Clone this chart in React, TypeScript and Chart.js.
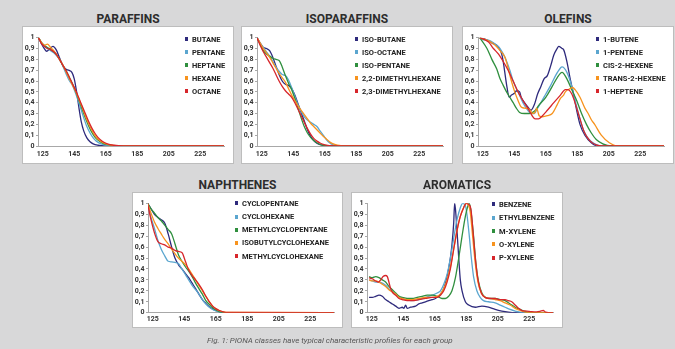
import React, { useEffect, useRef } from 'react';
import { Chart, registerables } from 'chart.js';

Chart.register(...registerables);

// ---------- shared axis / style data ----------
const X_MIN = 122;
const X_MAX = 240;
const X_TICKS = [125, 145, 165, 185, 205, 225];
const Y_TICKS = [0, 0.1, 0.2, 0.3, 0.4, 0.5, 0.6, 0.7, 0.8, 0.9, 1];
const COLORS = ['#2e2a7c', '#5ba6cf', '#2f8f3e', '#f7931e', '#d7262b'];
const CAPTION = 'Fig. 1: PIONA classes have typical characteristic profiles for each group';

// ---------- PARAFFINS ----------
const PARAFFIN_NAMES = ['BUTANE', 'PENTANE', 'HEPTANE', 'HEXANE', 'OCTANE'];
const butaneX = [122.3, 124, 126, 127.5, 129.5, 131.5, 133.5, 135.5, 137.5, 139.5, 141.5, 143.5, 145, 146.5, 148, 149.5, 151, 153, 155, 157, 160, 164, 240];
const butaneY = [1, 0.95, 0.9, 0.875, 0.9, 0.92, 0.89, 0.82, 0.75, 0.71, 0.7, 0.68, 0.62, 0.5, 0.35, 0.22, 0.14, 0.075, 0.04, 0.02, 0.007, 0, 0];
const pentaneX = [122.3, 124, 126, 128, 130, 132, 134, 136, 138, 140, 142, 143.5, 145, 147, 149, 151, 153, 155, 157, 159, 162, 166, 172, 240];
const pentaneY = [1, 0.96, 0.92, 0.9, 0.88, 0.86, 0.83, 0.79, 0.73, 0.66, 0.6, 0.57, 0.52, 0.44, 0.35, 0.26, 0.18, 0.12, 0.075, 0.045, 0.02, 0.006, 0, 0];
const paraffinGridX = [122.3, 124, 126, 128, 130, 132, 134, 136, 138, 140, 142, 144, 146, 148, 150, 152, 154, 156, 158, 160, 163, 166, 170, 176, 240];
const heptaneY = [1, 0.96, 0.93, 0.91, 0.89, 0.87, 0.84, 0.79, 0.74, 0.69, 0.63, 0.57, 0.5, 0.42, 0.34, 0.26, 0.19, 0.13, 0.085, 0.055, 0.027, 0.012, 0.004, 0, 0];
const hexaneY = [1, 0.96, 0.93, 0.94, 0.91, 0.88, 0.84, 0.79, 0.74, 0.68, 0.62, 0.56, 0.5, 0.43, 0.36, 0.28, 0.21, 0.15, 0.1, 0.065, 0.033, 0.015, 0.005, 0, 0];
const octaneY = [1, 0.95, 0.92, 0.9, 0.89, 0.87, 0.84, 0.79, 0.74, 0.69, 0.63, 0.57, 0.51, 0.44, 0.37, 0.3, 0.23, 0.17, 0.12, 0.08, 0.042, 0.02, 0.007, 0, 0];

// ---------- ISOPARAFFINS ----------
const ISO_NAMES = ['ISO-BUTANE', 'ISO-OCTANE', 'ISO-PENTANE', '2,2-DIMETHYLHEXANE', '2,3-DIMETHYLHEXANE'];
const isoButaneX = [122, 124, 126, 128, 130, 132, 134, 136, 138, 140, 142, 144, 146, 148, 150, 152, 154, 156, 158, 160, 162, 164, 167, 240];
const isoButaneY = [1, 0.95, 0.91, 0.9, 0.88, 0.82, 0.74, 0.66, 0.6, 0.57, 0.56, 0.53, 0.47, 0.39, 0.31, 0.23, 0.15, 0.09, 0.05, 0.025, 0.012, 0.005, 0, 0];
const isoOctaneX = [122, 124, 126, 128, 130, 132, 134, 136, 138, 140, 142, 144, 146, 148, 150, 152, 154, 156, 158, 160, 162, 164, 166, 168, 170, 173, 176, 240];
const isoOctaneY = [1, 0.95, 0.91, 0.87, 0.83, 0.78, 0.73, 0.69, 0.66, 0.65, 0.61, 0.54, 0.46, 0.38, 0.32, 0.27, 0.24, 0.22, 0.2, 0.18, 0.14, 0.1, 0.06, 0.03, 0.012, 0.003, 0, 0];
const isoPentaneX = [122, 124, 126, 128, 130, 132, 134, 136, 138, 140, 142, 144, 146, 148, 150, 152, 154, 156, 158, 160, 162, 164, 168, 240];
const isoPentaneY = [1, 0.94, 0.88, 0.85, 0.83, 0.81, 0.8, 0.79, 0.73, 0.65, 0.58, 0.52, 0.44, 0.35, 0.26, 0.18, 0.12, 0.08, 0.05, 0.03, 0.015, 0.007, 0, 0];
const dmh22X = [122, 124, 126, 128, 130, 132, 134, 136, 138, 140, 142, 144, 146, 148, 150, 152, 154, 156, 158, 160, 162, 164, 166, 168, 170, 173, 176, 180, 240];
const dmh22Y = [1, 0.95, 0.9, 0.86, 0.82, 0.77, 0.72, 0.67, 0.63, 0.59, 0.53, 0.47, 0.42, 0.37, 0.33, 0.29, 0.25, 0.21, 0.18, 0.15, 0.12, 0.09, 0.065, 0.04, 0.022, 0.008, 0.002, 0, 0];
const dmh23X = [122, 124, 126, 128, 130, 132, 134, 136, 138, 140, 142, 144, 146, 148, 150, 152, 154, 156, 158, 160, 162, 164, 166, 168, 170, 173, 240];
const dmh23Y = [1, 0.93, 0.87, 0.82, 0.77, 0.72, 0.66, 0.6, 0.55, 0.51, 0.48, 0.45, 0.4, 0.34, 0.28, 0.22, 0.16, 0.11, 0.07, 0.045, 0.028, 0.016, 0.008, 0.004, 0.002, 0, 0];

// ---------- OLEFINS ----------
const OLEFIN_NAMES = ['1-BUTENE', '1-PENTENE', 'CIS-2-HEXENE', 'TRANS-2-HEXENE', '1-HEPTENE'];
const buteneX = [123, 126, 129, 131, 133.9, 135.5, 137, 138, 140.1, 141.8, 143.2, 145.3, 146.3, 148.4, 149.4, 151.5, 153.6, 155.6, 157.7, 159.8, 161.9, 163.9, 166, 168.1, 170.1, 172.2, 173.2, 175.3, 176.3, 178.4, 180.5, 182.6, 184.6, 186.7, 189.8, 193.9, 198.1, 240];
const buteneY = [1, 0.99, 0.97, 0.95, 0.93, 0.9, 0.85, 0.78, 0.57, 0.45, 0.47, 0.49, 0.51, 0.5, 0.45, 0.4, 0.36, 0.33, 0.38, 0.48, 0.55, 0.62, 0.65, 0.74, 0.84, 0.9, 0.92, 0.9, 0.89, 0.78, 0.62, 0.48, 0.33, 0.2, 0.1, 0.03, 0, 0];
const penteneX = [123.1, 125.5, 127.7, 129.8, 133.9, 136, 139.1, 142.2, 144.3, 147.4, 150.5, 153.6, 155.6, 157.7, 159.8, 161.9, 165, 168.1, 171.2, 174.3, 175.3, 178.4, 181.5, 183.6, 186.1, 188.8, 191.9, 196, 200.2, 240];
const penteneY = [1, 0.98, 0.98, 0.97, 0.93, 0.9, 0.82, 0.7, 0.6, 0.5, 0.4, 0.33, 0.3, 0.3, 0.35, 0.4, 0.48, 0.56, 0.65, 0.72, 0.73, 0.68, 0.55, 0.42, 0.28, 0.15, 0.07, 0.02, 0, 0];
const cisHexeneX = [123.1, 127.7, 130.8, 133.9, 136, 138, 140.1, 142.2, 144.3, 146.3, 148.4, 151.5, 154.6, 157.7, 160.8, 165, 169.1, 172.2, 175.3, 178.4, 181.5, 184.6, 187.7, 190.8, 193.9, 197, 201.2, 206.4, 240];
const cisHexeneY = [1, 0.9, 0.8, 0.71, 0.62, 0.56, 0.5, 0.45, 0.4, 0.35, 0.31, 0.3, 0.3, 0.32, 0.38, 0.45, 0.55, 0.63, 0.68, 0.62, 0.52, 0.42, 0.3, 0.2, 0.12, 0.06, 0.02, 0, 0];
const transHexeneX = [123.1, 128.7, 132.9, 136, 139.1, 141.1, 143.2, 145.3, 147.4, 149.4, 151.5, 154.6, 156.7, 158.2, 159.2, 160.3, 160.8, 162.9, 166, 169.1, 172.2, 174.3, 176.3, 177.4, 180.5, 181.9, 183.6, 186.7, 189.8, 191.9, 194, 196, 200.2, 205.3, 210.5, 240];
const transHexeneY = [1, 0.97, 0.93, 0.88, 0.82, 0.72, 0.6, 0.5, 0.42, 0.36, 0.35, 0.34, 0.3, 0.31, 0.35, 0.3, 0.28, 0.27, 0.28, 0.3, 0.38, 0.44, 0.47, 0.5, 0.53, 0.54, 0.52, 0.45, 0.35, 0.3, 0.24, 0.2, 0.1, 0.03, 0, 0];
const hepteneX = [123.1, 128.7, 131.8, 134.9, 138, 141.1, 144.3, 147.4, 150.5, 153.6, 156.3, 158.3, 160.4, 162.9, 166, 170.1, 174.3, 177.4, 179, 181.5, 184, 186.7, 189.4, 192.9, 197, 201.2, 240];
const hepteneY = [1, 0.96, 0.9, 0.85, 0.78, 0.7, 0.6, 0.5, 0.42, 0.35, 0.28, 0.25, 0.25, 0.28, 0.33, 0.4, 0.47, 0.52, 0.52, 0.48, 0.38, 0.25, 0.13, 0.05, 0.01, 0, 0];

// ---------- NAPHTHENES ----------
const NAPHTHENE_NAMES = ['CYCLOPENTANE', 'CYCLOHEXANE', 'METHYLCYCLOPENTANE', 'ISOBUTYLCYCLOHEXANE', 'METHYLCYCLOHEXANE'];
const naphGridX = [121.7, 123.9, 126.1, 128.3, 130.4, 132.6, 134.8, 137, 139.1, 141.3, 143.5, 145.7, 147.8, 150, 152.2, 154.3, 156.5, 158.7, 160.9, 163, 165.2, 167.4, 169.6, 171.7, 240];
const cyclopentaneY = [1, 0.95, 0.9, 0.87, 0.85, 0.82, 0.72, 0.6, 0.5, 0.44, 0.4, 0.36, 0.32, 0.27, 0.22, 0.17, 0.12, 0.085, 0.055, 0.035, 0.018, 0.008, 0.002, 0, 0];
const cyclohexaneY = [1, 0.87, 0.77, 0.66, 0.58, 0.52, 0.47, 0.465, 0.46, 0.45, 0.4, 0.35, 0.3, 0.25, 0.21, 0.17, 0.12, 0.08, 0.05, 0.03, 0.017, 0.008, 0.002, 0, 0];
const methylcyclopentaneY = [1, 0.95, 0.91, 0.87, 0.84, 0.8, 0.76, 0.72, 0.63, 0.53, 0.47, 0.42, 0.38, 0.33, 0.27, 0.22, 0.17, 0.11, 0.075, 0.045, 0.025, 0.01, 0.003, 0, 0];
const isobutylcyclohexaneY = [1, 0.91, 0.83, 0.77, 0.72, 0.67, 0.63, 0.58, 0.54, 0.5, 0.47, 0.44, 0.4, 0.35, 0.3, 0.25, 0.2, 0.15, 0.1, 0.06, 0.035, 0.018, 0.008, 0.002, 0];
const methylcyclohexaneY = [1, 0.85, 0.73, 0.65, 0.63, 0.62, 0.6, 0.59, 0.57, 0.56, 0.55, 0.47, 0.39, 0.34, 0.3, 0.26, 0.21, 0.15, 0.1, 0.06, 0.035, 0.02, 0.008, 0.002, 0];

// ---------- AROMATICS ----------
const AROMATIC_NAMES = ['BENZENE', 'ETHYLBENZENE', 'M-XYLENE', 'O-XYLENE', 'P-XYLENE'];
const benzeneX = [123.3, 125.4, 127.5, 129.6, 131.7, 133.8, 135.9, 138.1, 140.2, 142.3, 144.4, 145.4, 146.5, 147.5, 149.6, 152.8, 154.9, 157, 159.1, 161.2, 163.3, 165.4, 168.6, 170.7, 172.8, 174.9, 175.9, 177, 177.6, 178.1, 179.1, 180.2, 181.2, 182.3, 184.4, 186.5, 190.7, 194.9, 199.1, 203.3, 207.5, 211.7, 216, 240];
const benzeneY = [0.14, 0.14, 0.15, 0.16, 0.15, 0.12, 0.1, 0.08, 0.06, 0.04, 0.05, 0.04, 0.07, 0.04, 0.05, 0.06, 0.08, 0.09, 0.1, 0.11, 0.12, 0.13, 0.17, 0.22, 0.33, 0.5, 0.62, 0.82, 1, 0.95, 0.75, 0.5, 0.3, 0.2, 0.1, 0.07, 0.05, 0.06, 0.05, 0.03, 0.015, 0.005, 0, 0];
const ethylbenzeneX = [123.3, 125.4, 127.5, 129.6, 131.7, 133.8, 135.9, 138.1, 140.2, 142.3, 144.4, 147.5, 150.7, 154.9, 159.1, 163.3, 166.5, 168.6, 170.7, 172.8, 174.9, 177, 179.1, 181.2, 182.7, 184.4, 185.4, 186.9, 188.2, 189.6, 191.7, 193.8, 195.9, 199.1, 203.3, 206.5, 209.6, 212.8, 216, 219.1, 222.3, 240];
const ethylbenzeneY = [0.3, 0.29, 0.28, 0.28, 0.27, 0.25, 0.22, 0.19, 0.17, 0.15, 0.13, 0.12, 0.11, 0.12, 0.14, 0.16, 0.18, 0.2, 0.26, 0.35, 0.5, 0.68, 0.85, 0.96, 1, 0.98, 0.9, 0.7, 0.5, 0.33, 0.2, 0.14, 0.11, 0.1, 0.09, 0.07, 0.05, 0.03, 0.015, 0.005, 0, 0];
const mXyleneX = [123.3, 125.4, 127.5, 129.6, 131.7, 133.8, 135.9, 138.1, 140.2, 142.3, 144.4, 147.5, 150.7, 153.8, 157, 160.2, 163.3, 166.5, 169.6, 171.7, 173.8, 175.9, 178.1, 180.2, 182.3, 184.4, 186.1, 186.9, 188.2, 189.6, 191.1, 192.8, 194.9, 197, 200.2, 203.3, 206.5, 209.6, 212.8, 216, 219.1, 222.3, 225.4, 240];
const mXyleneY = [0.33, 0.32, 0.33, 0.32, 0.3, 0.28, 0.24, 0.21, 0.18, 0.15, 0.14, 0.13, 0.13, 0.14, 0.15, 0.16, 0.16, 0.15, 0.13, 0.13, 0.15, 0.2, 0.32, 0.5, 0.7, 0.88, 0.98, 1, 0.9, 0.7, 0.45, 0.28, 0.18, 0.14, 0.13, 0.13, 0.12, 0.11, 0.08, 0.05, 0.03, 0.01, 0, 0];
const oXyleneX = [123.3, 125.4, 127.5, 129.6, 131.7, 133.8, 135.9, 138.1, 140.2, 142.3, 144.4, 147.5, 150.7, 154.9, 159.1, 163.3, 166.5, 168.6, 170.7, 172.8, 174.9, 177, 179.1, 181.2, 183.3, 184.8, 186.1, 187.5, 189, 190.7, 192.4, 194.5, 197, 200.2, 203.3, 206.5, 209.6, 212.8, 216, 219.1, 222.3, 225.4, 240];
const oXyleneY = [0.3, 0.29, 0.29, 0.28, 0.26, 0.24, 0.21, 0.19, 0.17, 0.14, 0.13, 0.12, 0.12, 0.13, 0.14, 0.14, 0.15, 0.17, 0.22, 0.3, 0.42, 0.58, 0.75, 0.88, 0.96, 1, 0.99, 0.92, 0.7, 0.45, 0.28, 0.18, 0.14, 0.13, 0.12, 0.11, 0.09, 0.07, 0.04, 0.02, 0.005, 0, 0];
const pXyleneX = [123.3, 125.4, 127.5, 129.2, 130.7, 132.2, 133.8, 134.9, 135.9, 137, 138.5, 140.2, 142.3, 144.4, 147.5, 150.7, 154.9, 159.1, 163.3, 166.5, 168.6, 170.7, 172.8, 174.9, 177, 179.1, 181.2, 183.3, 185, 186.5, 187.9, 189.2, 190.7, 192.4, 194.5, 197, 200.2, 203.3, 206.5, 209.6, 211.7, 213.8, 216, 218.1, 220.2, 223.3, 226.5, 229.6, 231.7, 233.8, 235.3, 237, 240];
const pXyleneY = [0.32, 0.31, 0.29, 0.28, 0.3, 0.33, 0.34, 0.33, 0.28, 0.22, 0.18, 0.16, 0.13, 0.12, 0.11, 0.11, 0.12, 0.13, 0.14, 0.14, 0.16, 0.2, 0.28, 0.4, 0.58, 0.75, 0.88, 0.96, 1, 0.99, 0.95, 0.75, 0.5, 0.3, 0.18, 0.14, 0.13, 0.13, 0.12, 0.12, 0.11, 0.1, 0.07, 0.04, 0.02, 0.015, 0.01, 0.008, 0.012, 0.02, 0.005, 0, 0];

type Series = { name: string; x: number[]; y: number[] };
type PanelDef = {
  title: string;
  left: number;
  top: number;
  w: number;
  h: number;
  legendLeft: number;
  legendTop: number;
  legendGap: number;
  xAxisH: number;
  labelPad: number;
  padTop: number;
  series: Series[];
};

const PANELS: PanelDef[] = [
  {
    title: 'PARAFFINS', left: 23, top: 27, w: 210, h: 136, legendLeft: 162, legendTop: 5.5, legendGap: 13, xAxisH: 17, labelPad: 4, padTop: 10.7,
    series: [
      { name: PARAFFIN_NAMES[0], x: butaneX, y: butaneY },
      { name: PARAFFIN_NAMES[1], x: pentaneX, y: pentaneY },
      { name: PARAFFIN_NAMES[2], x: paraffinGridX, y: heptaneY },
      { name: PARAFFIN_NAMES[3], x: paraffinGridX, y: hexaneY },
      { name: PARAFFIN_NAMES[4], x: paraffinGridX, y: octaneY },
    ],
  },
  {
    title: 'ISOPARAFFINS', left: 242, top: 27, w: 210, h: 136, legendLeft: 113, legendTop: 5.5, legendGap: 13, xAxisH: 17, labelPad: 4, padTop: 10.7,
    series: [
      { name: ISO_NAMES[0], x: isoButaneX, y: isoButaneY },
      { name: ISO_NAMES[1], x: isoOctaneX, y: isoOctaneY },
      { name: ISO_NAMES[2], x: isoPentaneX, y: isoPentaneY },
      { name: ISO_NAMES[3], x: dmh22X, y: dmh22Y },
      { name: ISO_NAMES[4], x: dmh23X, y: dmh23Y },
    ],
  },
  {
    title: 'OLEFINS', left: 463, top: 27, w: 210, h: 136, legendLeft: 133, legendTop: 5.5, legendGap: 13, xAxisH: 17, labelPad: 4, padTop: 10.7,
    series: [
      { name: OLEFIN_NAMES[0], x: buteneX, y: buteneY },
      { name: OLEFIN_NAMES[1], x: penteneX, y: penteneY },
      { name: OLEFIN_NAMES[2], x: cisHexeneX, y: cisHexeneY },
      { name: OLEFIN_NAMES[3], x: transHexeneX, y: transHexeneY },
      { name: OLEFIN_NAMES[4], x: hepteneX, y: hepteneY },
    ],
  },
  {
    title: 'NAPHTHENES', left: 133, top: 193, w: 209, h: 134, legendLeft: 102, legendTop: 3.8, legendGap: 13.2, xAxisH: 14.3, labelPad: 2, padTop: 10.3,
    series: [
      { name: NAPHTHENE_NAMES[0], x: naphGridX, y: cyclopentaneY },
      { name: NAPHTHENE_NAMES[1], x: naphGridX, y: cyclohexaneY },
      { name: NAPHTHENE_NAMES[2], x: naphGridX, y: methylcyclopentaneY },
      { name: NAPHTHENE_NAMES[3], x: naphGridX, y: isobutylcyclohexaneY },
      { name: NAPHTHENE_NAMES[4], x: naphGridX, y: methylcyclohexaneY },
    ],
  },
  {
    title: 'AROMATICS', left: 352, top: 193, w: 210, h: 134, legendLeft: 140, legendTop: 4.8, legendGap: 13.3, xAxisH: 14.3, labelPad: 2, padTop: 10.3,
    series: [
      { name: AROMATIC_NAMES[0], x: benzeneX, y: benzeneY },
      { name: AROMATIC_NAMES[1], x: ethylbenzeneX, y: ethylbenzeneY },
      { name: AROMATIC_NAMES[2], x: mXyleneX, y: mXyleneY },
      { name: AROMATIC_NAMES[3], x: oXyleneX, y: oXyleneY },
      { name: AROMATIC_NAMES[4], x: pXyleneX, y: pXyleneY },
    ],
  },
];

const AXIS_COLOR = '#a8a8a8';
const TICK_FONT = { family: 'Roboto', size: 7, weight: 'bold' as const };

function Panel({ p }: { p: PanelDef }) {
  const ref = useRef<HTMLCanvasElement>(null);
  useEffect(() => {
    if (!ref.current) return;
    const chart = new Chart(ref.current, {
      type: 'line',
      data: {
        datasets: p.series.map((s, i) => ({
          label: s.name,
          data: s.x.map((x, j) => ({ x, y: s.y[j] })),
          borderColor: COLORS[i],
          backgroundColor: COLORS[i],
          borderWidth: 1.3,
          pointRadius: 0,
          cubicInterpolationMode: 'monotone' as const,
          fill: false,
          order: -i,
        })),
      },
      options: {
        animation: false,
        responsive: false,
        devicePixelRatio: 1,
        layout: { padding: { left: 0, top: p.padTop, right: p.w - 201, bottom: 0 } },
        plugins: { legend: { display: false }, tooltip: { enabled: false } },
        scales: {
          x: {
            type: 'linear',
            min: X_MIN,
            max: X_MAX,
            afterBuildTicks: (scale: any) => {
              scale.ticks = X_TICKS.map((v) => ({ value: v }));
            },
            afterFit: (scale: any) => {
              scale.height = p.xAxisH;
            },
            grid: { display: false, drawTicks: false },
            border: { display: true, color: AXIS_COLOR, width: 1 },
            ticks: {
              autoSkip: false,
              maxRotation: 0,
              padding: p.labelPad,
              color: '#333',
              font: TICK_FONT,
              callback: (v: any) => String(v),
            },
          },
          y: {
            type: 'linear',
            min: 0,
            max: 1,
            afterBuildTicks: (scale: any) => {
              scale.ticks = Y_TICKS.map((v) => ({ value: v }));
            },
            afterFit: (scale: any) => {
              scale.width = 15;
            },
            grid: { display: true, drawOnChartArea: false, drawTicks: true, tickLength: 2, color: AXIS_COLOR },
            border: { display: true, color: AXIS_COLOR, width: 1 },
            ticks: {
              autoSkip: false,
              padding: 1.5,
              color: '#333',
              font: TICK_FONT,
              callback: (v: any) => String(v).replace('.', ','),
            },
          },
        },
      },
    } as any);
    return () => chart.destroy();
  }, [p]);

  return (
    <>
      <div
        style={{
          position: 'absolute',
          left: p.left,
          top: p.top - 14,
          width: p.w,
          textAlign: 'center',
          fontFamily: 'Roboto',
          fontWeight: 700,
          fontSize: 12,
          lineHeight: '12px',
          color: '#2d2d2d',
          whiteSpace: 'nowrap',
        }}
      >
        {p.title}
      </div>
      <div
        style={{
          position: 'absolute',
          left: p.left,
          top: p.top,
          width: p.w,
          height: p.h,
          background: '#ffffff',
          boxShadow: '0 0 0 1px #bdbdbd',
        }}
      >
        <canvas
          ref={ref}
          width={p.w}
          height={p.h}
          style={{ position: 'absolute', left: 0, top: 0, width: p.w, height: p.h }}
        />
        <div style={{ position: 'absolute', left: p.legendLeft, top: p.legendTop }}>
          {p.series.map((s, i) => (
            <div
              key={s.name}
              style={{
                height: p.legendGap,
                display: 'flex',
                alignItems: 'center',
                fontFamily: 'Roboto',
                fontWeight: 700,
                fontSize: 7.5,
                color: '#222',
                whiteSpace: 'nowrap',
              }}
            >
              <span
                style={{
                  display: 'inline-block',
                  width: 3,
                  height: 4,
                  background: COLORS[i],
                  marginRight: 4,
                  flex: '0 0 auto',
                }}
              />
              <span>{s.name}</span>
            </div>
          ))}
        </div>
      </div>
    </>
  );
}

export default function App() {
  return (
    <div
      style={{
        position: 'fixed',
        left: 0,
        top: 0,
        width: 675,
        height: 349,
        background: '#d8d8d9',
        overflow: 'hidden',
      }}
    >
      {PANELS.map((p) => (
        <Panel key={p.title} p={p} />
      ))}
      <div
        style={{
          position: 'absolute',
          left: 207,
          top: 336,
          fontFamily: 'Roboto',
          fontStyle: 'italic',
          fontSize: 8,
          lineHeight: '10px',
          color: '#555',
          whiteSpace: 'nowrap',
        }}
      >
        {CAPTION}
      </div>
    </div>
  );
}
